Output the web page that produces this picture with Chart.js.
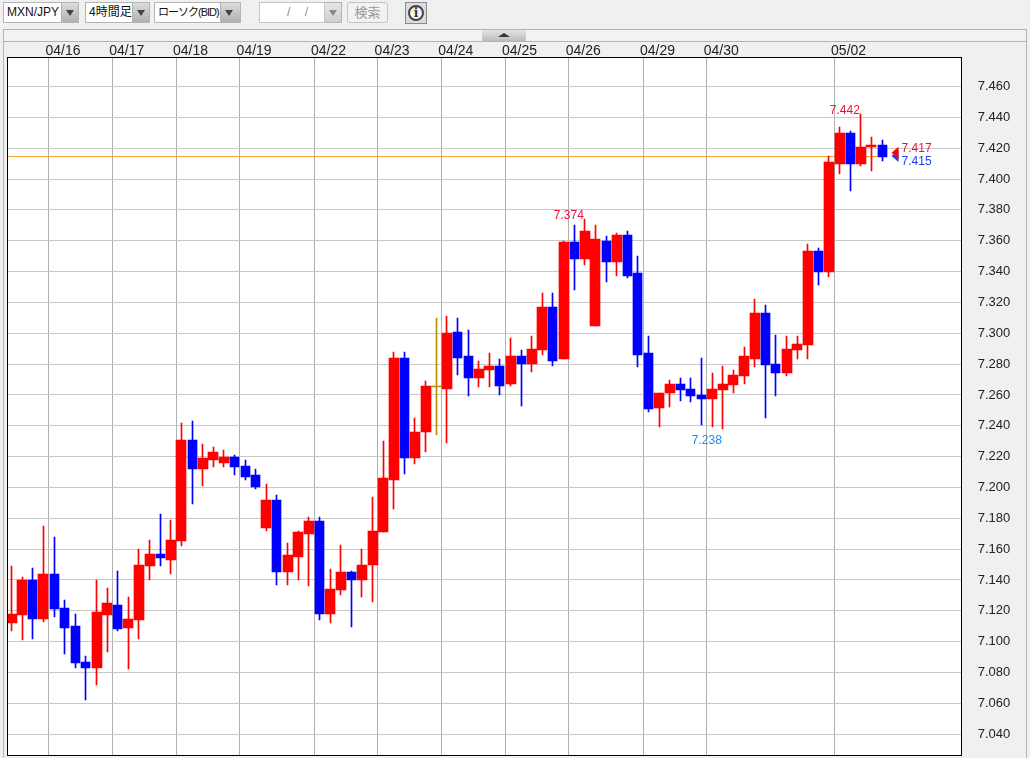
<!DOCTYPE html>
<html lang="ja">
<head>
<meta charset="utf-8">
<title>MXN/JPY</title>
<script src="https://cdn.jsdelivr.net/npm/chart.js@4"></script>
<style>
  html, body { margin: 0; padding: 0; background: #f0f0f0; }
  body { position: relative; width: 1030px; height: 758px; overflow: hidden;
         font-family: "Liberation Sans", "Noto Sans CJK JP", sans-serif; color: #111; }
  #grafico { position: absolute; left: 0; top: 0; z-index: 2; }
  .caixa { position: absolute; top: 2px; height: 21px; box-sizing: border-box; background: #fff;
           border: 1px solid #b4b4b4; font-size: 12px; line-height: 19px; padding-left: 3px; white-space: nowrap; overflow: hidden; }
  .seta { position: absolute; top: 2px; height: 21px; box-sizing: border-box; width: 17px;
          background: linear-gradient(#dcdcdc, #b0b0b0); border: 1px solid #b4b4b4; border-left: 0; }
  .seta::after { content: ""; position: absolute; left: 4px; top: 7px; border-left: 4px solid transparent;
                 border-right: 4px solid transparent; border-top: 6px solid #444; }
  .seta.off { background: linear-gradient(#e6e6e6, #cfcfcf); }
  .seta.off::after { border-top-color: #888; }
  #botaoBusca { position: absolute; left: 347px; top: 2px; width: 41px; height: 21px; box-sizing: border-box;
                border: 1px solid #c4c4c4; border-radius: 3px; background: #f2f2f2; color: #999;
                font-size: 13px; line-height: 19px; text-align: center; }
  #botaoInfo { position: absolute; left: 405px; top: 2px; width: 22px; height: 22px; box-sizing: border-box;
               border: 1px solid #8c8c8c; background: #dcdcdc; }
  #botaoInfo span { position: absolute; left: 2px; top: 2px; width: 16px; height: 16px; box-sizing: border-box;
                    border: 2px solid #444; border-radius: 50%; background: #f4f4f4; color: #333;
                    font: bold 12px/12px "DejaVu Serif", serif; text-align: center; }
  #painel { position: absolute; left: 3px; top: 29px; width: 1024px; height: 729px; box-sizing: border-box;
            border: 1px solid #b4b4b4; border-bottom: 0; }
  #faixa { position: absolute; left: 0; top: 0; right: 0; height: 11px; border-bottom: 1px solid #b4b4b4; background: #f2f2f2; }
  #aba { position: absolute; left: 478px; top: 0; width: 44px; height: 11px; background: linear-gradient(#e4e4e4, #bcbcbc); }
  #aba::after { content: ""; position: absolute; left: 16px; top: 3px; border-left: 6px solid transparent;
                border-right: 6px solid transparent; border-bottom: 4px solid #333; }
</style>
</head>
<body>
<div class="caixa" style="left:3px;width:59px">MXN/JPY</div><div class="seta" style="left:62px"></div>
<div class="caixa" style="left:85px;width:48px;padding-left:3px">4時間足</div><div class="seta" style="left:133px"></div>
<div class="caixa" style="left:154px;width:67px;padding-left:3px;font-size:11px;letter-spacing:-1px">ローソク(BID)</div><div class="seta" style="left:221px;width:20px"></div>
<div class="caixa" style="left:259px;width:66px;border-color:#c4c4c4;color:#888;padding-left:27px;word-spacing:11px">/ /</div><div class="seta off" style="left:325px"></div>
<div id="botaoBusca">検索</div>
<div id="botaoInfo"><span>i</span></div>
<div id="painel"><div id="faixa"><div id="aba"></div></div></div>
<canvas id="grafico" width="1030" height="758"></canvas>

<script>
// ===== DATA =====
const opens = [
  7.112, 7.117, 7.140, 7.115, 7.144, 7.122, 7.110, 7.087, 7.083, 7.117,
  7.124, 7.109, 7.114, 7.149, 7.157, 7.153, 7.165, 7.2305, 7.212, 7.218,
  7.216, 7.2195, 7.214, 7.208, 7.174, 7.192, 7.145, 7.155, 7.170, 7.178,
  7.118, 7.1335, 7.145, 7.140, 7.150, 7.171, 7.205, 7.284, 7.219, 7.236,
  7.265, 7.264, 7.3005, 7.285, 7.271, 7.276, 7.2785, 7.267, 7.285, 7.280,
  7.289, 7.317, 7.283, 7.359, 7.348, 7.3045, 7.3595, 7.346, 7.364, 7.339,
  7.287, 7.2515, 7.261, 7.267, 7.264, 7.260, 7.2575, 7.263, 7.2665, 7.272,
  7.283, 7.313, 7.280, 7.274, 7.289, 7.2925, 7.3535, 7.340, 7.410, 7.430,
  7.410, 7.421, 7.422
];
const highs = [
  7.149, 7.142, 7.148, 7.175, 7.168, 7.127, 7.118, 7.091, 7.140, 7.135,
  7.146, 7.129, 7.160, 7.166, 7.183, 7.179, 7.2415, 7.243, 7.2285, 7.226,
  7.224, 7.221, 7.2175, 7.212, 7.202, 7.195, 7.164, 7.1715, 7.181, 7.181,
  7.147, 7.163, 7.146, 7.160, 7.194, 7.230, 7.288, 7.288, 7.245, 7.269,
  7.310, 7.311, 7.310, 7.302, 7.282, 7.287, 7.283, 7.297, 7.289, 7.298,
  7.326, 7.326, 7.3595, 7.370, 7.374, 7.370, 7.363, 7.365, 7.3665, 7.350,
  7.298, 7.2615, 7.270, 7.271, 7.271, 7.284, 7.274, 7.279, 7.276, 7.291,
  7.322, 7.318, 7.299, 7.298, 7.298, 7.358, 7.355, 7.415, 7.434, 7.431,
  7.442, 7.427, 7.425
];
const lows = [
  7.107, 7.101, 7.102, 7.113, 7.116, 7.092, 7.083, 7.062, 7.072, 7.093,
  7.107, 7.082, 7.102, 7.140, 7.149, 7.144, 7.162, 7.189, 7.201, 7.213,
  7.213, 7.208, 7.205, 7.199, 7.172, 7.137, 7.137, 7.140, 7.136, 7.114,
  7.112, 7.130, 7.1095, 7.129, 7.126, 7.171, 7.186, 7.209, 7.215, 7.223,
  7.234, 7.229, 7.273, 7.259, 7.265, 7.265, 7.260, 7.266, 7.253, 7.275,
  7.286, 7.279, 7.283, 7.328, 7.344, 7.3045, 7.333, 7.337, 7.336, 7.278,
  7.249, 7.239, 7.252, 7.256, 7.2555, 7.2405, 7.239, 7.238, 7.261, 7.267,
  7.278, 7.245, 7.259, 7.272, 7.283, 7.283, 7.331, 7.3365, 7.403, 7.392,
  7.4085, 7.405, 7.412
];
const closes = [
  7.118, 7.140, 7.115, 7.144, 7.121, 7.109, 7.086, 7.083, 7.119, 7.125,
  7.108, 7.115, 7.150, 7.157, 7.154, 7.166, 7.2305, 7.212, 7.219, 7.223,
  7.2195, 7.213, 7.207, 7.200, 7.192, 7.145, 7.156, 7.171, 7.178, 7.118,
  7.134, 7.145, 7.140, 7.150, 7.172, 7.206, 7.284, 7.219, 7.236, 7.2655,
  7.265, 7.300, 7.284, 7.271, 7.2765, 7.2785, 7.266, 7.285, 7.280, 7.2895,
  7.317, 7.282, 7.359, 7.348, 7.3665, 7.361, 7.346, 7.364, 7.337, 7.286,
  7.251, 7.2615, 7.267, 7.263, 7.259, 7.2575, 7.264, 7.267, 7.273, 7.285,
  7.313, 7.2795, 7.274, 7.290, 7.293, 7.3535, 7.340, 7.411, 7.430, 7.410,
  7.421, 7.4223, 7.4145
];

const dayIndexes = [4, 10, 16, 22, 29, 35, 41, 47, 53, 60, 66, 78];
const dayLabels = ['04/16', '04/17', '04/18', '04/19', '04/22', '04/23', '04/24', '04/25', '04/26', '04/29', '04/30', '05/02'];
const yTicks = [7.04, 7.06, 7.08, 7.10, 7.12, 7.14, 7.16, 7.18, 7.20, 7.22, 7.24, 7.26, 7.28,
                7.30, 7.32, 7.34, 7.36, 7.38, 7.40, 7.42, 7.44, 7.46];

const highMarkIndexes = [54, 80];
const lowMarkIndexes = [67];
const askPrice = 7.417;
const bidPrice = 7.415;

// 83 candles plus empty room on the right of the last one
const SLOT_COUNT = 90;

// ===== COLOURS =====
const COLORS = {
  up: '#ff0000',
  down: '#0000ff',
  flat: '#b89000',
  gridV: '#b0b0b0',
  gridH: '#c8c8c8',
  bidLine: '#f2a030',
  askText: '#f0103c',
  bidText: '#1c3cf0',
  lowText: '#1e8cf0',
  panel: '#f0f0f0'
};

const candleColor = (i) => {
  if (closes[i] > opens[i]) return COLORS.up;
  if (closes[i] < opens[i]) return COLORS.down;
  return COLORS.flat;
};

// Only the candles going in one direction, the others stay empty in the dataset
const bodiesWhere = (test) => opens.map((open, i) =>
  test(closes[i] - open) ? [Math.min(open, closes[i]), Math.max(open, closes[i])] : null);

// ===== PLUGINS =====
const snapBars = (chart) => {
  // The original was drawn on whole pixels, so no blurred edges on the bars
  chart.data.datasets.forEach((ds, d) => {
    chart.getDatasetMeta(d).data.forEach((bar) => {
      if (bar.skip || bar.y == null) return;
      bar.x = Math.round(bar.x - bar.width / 2) + bar.width / 2;
      bar.y = Math.round(bar.y);
      bar.base = Math.round(bar.base);
      if (bar.y === bar.base) bar.y -= 1;
    });
  });
};

const chartDecor = {
  id: 'chartDecor',
  beforeDraw(chart) {
    const { ctx, chartArea: a } = chart;
    ctx.save();
    ctx.fillStyle = '#fff';
    ctx.fillRect(a.left, a.top, a.right - a.left, a.bottom - a.top);
    ctx.restore();
  },
  beforeDatasetsDraw(chart) {
    snapBars(chart);
    const { ctx, chartArea: a, scales } = chart;
    const y = Math.round(scales.y.getPixelForValue(bidPrice)) + 0.5;
    const xEnd = scales.x.getPixelForValue(opens.length - 1) + 5;
    ctx.save();
    ctx.strokeStyle = COLORS.bidLine;
    ctx.lineWidth = 1;
    ctx.beginPath();
    ctx.moveTo(a.left, y);
    ctx.lineTo(xEnd, y);
    ctx.stroke();
    ctx.restore();
  },
  afterDatasetsDraw(chart) {
    const { ctx, scales } = chart;
    const xAt = (i) => scales.x.getPixelForValue(i);
    const yAt = (v) => scales.y.getPixelForValue(v);
    ctx.save();
    ctx.font = '12px "Liberation Sans", sans-serif';
    ctx.textAlign = 'right';

    // highest and lowest price labels
    ctx.fillStyle = COLORS.askText;
    ctx.textBaseline = 'bottom';
    highMarkIndexes.forEach((i) => {
      ctx.fillText(highs[i].toFixed(3), xAt(i) - 1, yAt(highs[i]) + 2.5);
    });
    ctx.fillStyle = COLORS.lowText;
    ctx.textBaseline = 'top';
    lowMarkIndexes.forEach((i) => {
      ctx.fillText(lows[i].toFixed(3), xAt(i) - 1, yAt(lows[i]) + 6);
    });

    // current price triangles and labels
    const xTip = xAt(opens.length - 1) + 9.5;
    const triangle = (value, color) => {
      const yv = yAt(value);
      ctx.fillStyle = color;
      ctx.beginPath();
      ctx.moveTo(xTip, yv);
      ctx.lineTo(xTip + 7, yv - 6);
      ctx.lineTo(xTip + 7, yv + 6);
      ctx.closePath();
      ctx.fill();
    };
    triangle(bidPrice, COLORS.bidText);
    triangle(askPrice, COLORS.up);

    ctx.textAlign = 'left';
    ctx.textBaseline = 'middle';
    ctx.fillStyle = COLORS.askText;
    ctx.fillText(askPrice.toFixed(3), xTip + 10, yAt(askPrice) - 4);
    ctx.fillStyle = COLORS.bidText;
    ctx.fillText(bidPrice.toFixed(3), xTip + 10, yAt(bidPrice) + 6);
    ctx.restore();
  },
  afterDraw(chart) {
    const { ctx, chartArea: a } = chart;
    ctx.save();
    // grid stubs left of the frame
    ctx.fillStyle = COLORS.panel;
    ctx.fillRect(a.left - 1, a.top, 8 - a.left, a.bottom - a.top);
    ctx.strokeStyle = '#000';
    ctx.lineWidth = 1;
    ctx.strokeRect(7.5, 57.5, 954, 698);
    ctx.restore();
  }
};

// ===== CHART =====
document.addEventListener('DOMContentLoaded', () => {
  const categories = Array.from({ length: SLOT_COUNT }, (_, i) => i);

  new Chart(document.getElementById('grafico'), {
    type: 'bar',
    plugins: [chartDecor],
    data: {
      labels: categories,
      datasets: [
        {
          label: 'wick',
          data: opens.map((_, i) => [lows[i], highs[i]]),
          backgroundColor: opens.map((_, i) => candleColor(i)),
          barThickness: 1,
          grouped: false,
          order: 3
        },
        {
          label: 'up',
          data: bodiesWhere((d) => d > 0),
          backgroundColor: COLORS.up,
          barThickness: 10,
          grouped: false,
          order: 2
        },
        {
          label: 'down',
          data: bodiesWhere((d) => d < 0),
          backgroundColor: COLORS.down,
          barThickness: 9,
          grouped: false,
          order: 1
        },
        {
          label: 'flat',
          data: bodiesWhere((d) => d === 0),
          backgroundColor: COLORS.flat,
          barThickness: 10,
          grouped: false,
          order: 0
        }
      ]
    },
    options: {
      responsive: false,
      animation: false,
      layout: { padding: { left: 6.3, top: 0, right: 0, bottom: 2.5 } },
      plugins: { legend: { display: false }, tooltip: { enabled: false } },
      scales: {
        x: {
          position: 'top',
          offset: true,
          afterFit: (scale) => { scale.height = 57.5; },
          border: { display: false },
          grid: {
            offset: true,
            drawTicks: false,
            color: (ctx) => (dayIndexes.includes(ctx.index) ? COLORS.gridV : 'transparent')
          },
          ticks: {
            autoSkip: false,
            maxRotation: 0,
            minRotation: 0,
            padding: -2,
            labelOffset: 9,
            color: '#222',
            font: { family: '"Liberation Sans", sans-serif', size: 14 },
            callback: (value, i) => {
              const k = dayIndexes.indexOf(i);
              return k >= 0 ? dayLabels[k] : '';
            }
          }
        },
        y: {
          position: 'right',
          min: 7.0262,
          max: 7.4788,
          afterFit: (scale) => {
            scale.width = 68.35;
            // tick padding would otherwise eat the plot height
            scale.paddingTop = 0;
            scale.paddingBottom = 0;
          },
          afterBuildTicks: (scale) => { scale.ticks = yTicks.map((value) => ({ value })); },
          border: { display: false },
          grid: { drawTicks: false, color: COLORS.gridH },
          ticks: {
            padding: 16,
            color: '#222',
            font: { family: '"Liberation Sans", sans-serif', size: 13 },
            callback: (value) => value.toFixed(3)
          }
        }
      }
    }
  });
});
</script>
</body>
</html>
